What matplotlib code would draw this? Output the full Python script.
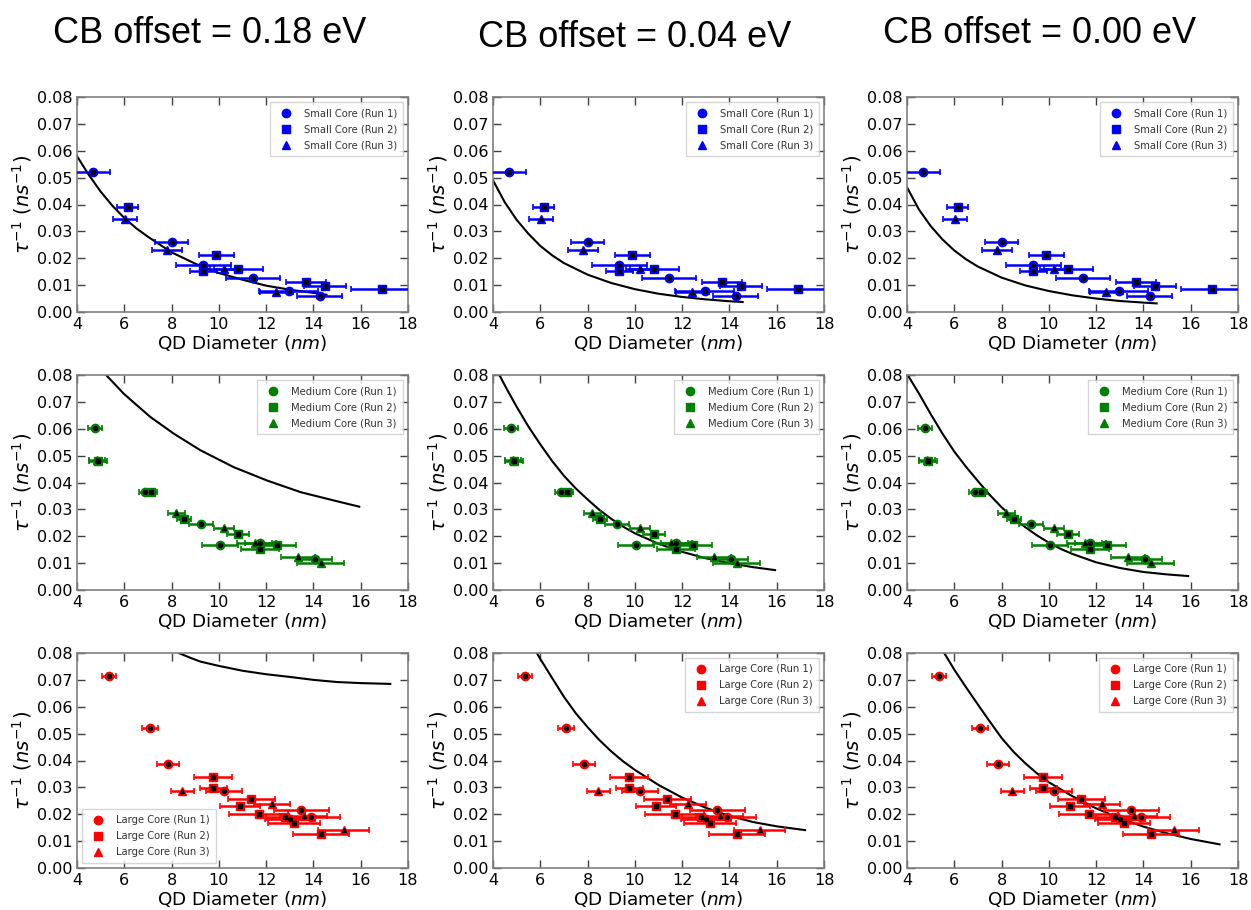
import matplotlib
matplotlib.use("Agg")
import matplotlib.pyplot as plt
from matplotlib.lines import Line2D

# ---------------- data ----------------
titles = ["CB offset = 0.18 eV", "CB offset = 0.04 eV", "CB offset = 0.00 eV"]
core_names = ["Small", "Medium", "Large"]
core_colors = ["blue", "green", "red"]

# Small core
small_r1_d = [4.69, 8.00, 9.35, 11.44, 12.95, 14.27]
small_r1_rate = [0.0521, 0.0259, 0.0175, 0.0128, 0.0079, 0.0059]
small_r1_err = [0.72, 0.70, 1.16, 1.15, 1.25, 0.95]
small_r2_d = [6.14, 9.35, 9.89, 10.83, 13.67, 14.48, 16.91]
small_r2_rate = [0.0390, 0.0152, 0.0212, 0.0159, 0.0110, 0.0096, 0.0085]
small_r2_err = [0.46, 0.57, 0.73, 1.03, 0.85, 0.89, 1.30]
small_r3_d = [6.03, 7.80, 10.23, 12.43]
small_r3_rate = [0.0347, 0.0232, 0.0160, 0.0075]
small_r3_err = [0.50, 0.63, 0.60, 0.70]

# Medium core
medium_r1_d = [4.76, 6.88, 9.24, 10.06, 11.75, 14.06]
medium_r1_rate = [0.0604, 0.0366, 0.0246, 0.0168, 0.0176, 0.0114]
medium_r1_err = [0.28, 0.25, 0.50, 0.76, 0.65, 0.74]
medium_r2_d = [4.90, 7.12, 8.53, 10.81, 11.75, 12.46]
medium_r2_rate = [0.0480, 0.0366, 0.0265, 0.0210, 0.0152, 0.0167]
medium_r2_err = [0.39, 0.25, 0.29, 0.48, 0.80, 0.80]
medium_r3_d = [4.85, 8.19, 10.21, 11.51, 13.35, 14.30]
medium_r3_rate = [0.0483, 0.0286, 0.0231, 0.0174, 0.0124, 0.0102]
medium_r3_err = [0.35, 0.36, 0.42, 0.75, 0.72, 1.00]

# Large core
large_r1_d = [5.36, 7.09, 7.84, 10.22, 13.02, 13.49, 13.91]
large_r1_rate = [0.0715, 0.0520, 0.0386, 0.0287, 0.0182, 0.0216, 0.0189]
large_r1_err = [0.30, 0.35, 0.47, 0.77, 1.05, 1.17, 1.20]
large_r2_d = [9.75, 9.77, 10.90, 11.37, 11.68, 12.80, 13.16, 14.32]
large_r2_rate = [0.0340, 0.0299, 0.0232, 0.0258, 0.0201, 0.0190, 0.0168, 0.0125]
large_r2_err = [0.80, 0.58, 0.85, 1.00, 1.25, 0.80, 1.10, 1.20]
large_r3_d = [8.46, 12.25, 13.59, 15.29]
large_r3_rate = [0.0286, 0.0240, 0.0194, 0.0140]
large_r3_err = [0.47, 0.76, 1.00, 1.08]

# Model curves (row = core size, column = CB offset)
small_018_x = [4.0, 4.5, 5.0, 5.5, 6.0, 6.5, 7.0, 8.0, 9.0, 10.0, 11.0, 12.0, 13.0, 14.0, 14.55]
small_018_y = [0.0580, 0.0510, 0.0448, 0.0395, 0.0350, 0.0312, 0.0280, 0.0222, 0.0180, 0.0145, 0.0120, 0.0098, 0.0083, 0.0071, 0.0064]
small_004_x = [4.0, 4.5, 5.0, 5.5, 6.0, 6.5, 7.0, 8.0, 9.0, 10.0, 11.0, 12.0, 13.0, 14.0, 14.56]
small_004_y = [0.0490, 0.0408, 0.0343, 0.0291, 0.0246, 0.0211, 0.0182, 0.0139, 0.0108, 0.0085, 0.0068, 0.0056, 0.0047, 0.0040, 0.0037]
small_000_x = [4.0, 4.5, 5.0, 5.5, 6.0, 6.5, 7.0, 8.0, 9.0, 10.0, 11.0, 12.0, 13.0, 14.0, 14.56]
small_000_y = [0.0464, 0.0382, 0.0320, 0.0270, 0.0229, 0.0196, 0.0169, 0.0128, 0.0099, 0.0078, 0.0062, 0.0050, 0.0041, 0.0035, 0.0032]

medium_018_x = [5.23, 5.5, 5.97, 6.5, 7.10, 8.09, 9.22, 10.63, 12.05, 13.46, 14.87, 15.94]
medium_018_y = [0.0800, 0.0775, 0.0731, 0.0690, 0.0644, 0.0582, 0.0520, 0.0457, 0.0407, 0.0364, 0.0333, 0.0310]
medium_004_x = [4.27, 4.6, 5.0, 5.5, 6.0, 6.5, 7.0, 7.5, 8.0, 8.5, 9.0, 9.5, 10.0, 11.0, 12.0, 13.0, 14.0, 15.0, 15.93]
medium_004_y = [0.0800, 0.0745, 0.0682, 0.0608, 0.0542, 0.0480, 0.0425, 0.0378, 0.0337, 0.0298, 0.0265, 0.0236, 0.0211, 0.0172, 0.0142, 0.0118, 0.0100, 0.0085, 0.0074]
medium_000_x = [4.0, 4.5, 5.0, 5.5, 6.0, 6.5, 7.0, 7.5, 8.0, 8.5, 9.0, 9.5, 10.0, 10.5, 11.0, 12.0, 13.0, 14.0, 15.0, 15.89]
medium_000_y = [0.0804, 0.0732, 0.0655, 0.0582, 0.0515, 0.0458, 0.0405, 0.0354, 0.0308, 0.0268, 0.0234, 0.0203, 0.0176, 0.0153, 0.0134, 0.0103, 0.0082, 0.0067, 0.0058, 0.0052]

large_018_x = [8.30, 8.8, 9.22, 10.0, 11.0, 12.0, 13.0, 14.0, 15.0, 16.0, 17.25]
large_018_y = [0.0800, 0.0782, 0.0768, 0.0752, 0.0734, 0.0721, 0.0711, 0.0700, 0.0692, 0.0688, 0.0685]
large_004_x = [5.85, 6.0, 6.5, 7.0, 7.5, 8.0, 8.5, 9.0, 9.5, 10.0, 11.0, 12.0, 13.0, 14.0, 15.0, 16.0, 17.2]
large_004_y = [0.0801, 0.0778, 0.0707, 0.0637, 0.0576, 0.0524, 0.0476, 0.0434, 0.0397, 0.0365, 0.0309, 0.0262, 0.0224, 0.0194, 0.0171, 0.0155, 0.0141]
large_000_x = [5.54, 6.0, 6.5, 7.0, 7.5, 8.0, 8.5, 9.0, 9.5, 10.0, 11.0, 12.0, 13.0, 14.0, 15.0, 16.0, 17.22]
large_000_y = [0.0805, 0.0738, 0.0672, 0.0608, 0.0545, 0.0484, 0.0433, 0.0390, 0.0352, 0.0319, 0.0267, 0.0222, 0.0185, 0.0154, 0.0129, 0.0108, 0.0088]

x_ticks = [4, 6, 8, 10, 12, 14, 16, 18]
y_ticks = [0.00, 0.01, 0.02, 0.03, 0.04, 0.05, 0.06, 0.07, 0.08]

# ---------------- assemble ----------------
runs = {
    "Small": [(small_r1_d, small_r1_rate, small_r1_err),
              (small_r2_d, small_r2_rate, small_r2_err),
              (small_r3_d, small_r3_rate, small_r3_err)],
    "Medium": [(medium_r1_d, medium_r1_rate, medium_r1_err),
               (medium_r2_d, medium_r2_rate, medium_r2_err),
               (medium_r3_d, medium_r3_rate, medium_r3_err)],
    "Large": [(large_r1_d, large_r1_rate, large_r1_err),
              (large_r2_d, large_r2_rate, large_r2_err),
              (large_r3_d, large_r3_rate, large_r3_err)],
}
curves = {
    "Small": [(small_018_x, small_018_y), (small_004_x, small_004_y), (small_000_x, small_000_y)],
    "Medium": [(medium_018_x, medium_018_y), (medium_004_x, medium_004_y), (medium_000_x, medium_000_y)],
    "Large": [(large_018_x, large_018_y), (large_004_x, large_004_y), (large_000_x, large_000_y)],
}
markers = ["o", "s", "^"]

fig = plt.figure(figsize=(12.51, 9.10), dpi=100)

col_left = [77, 493, 907]
col_w = 331
row_top = [97, 375, 653]
row_h = 215
W, H = 1251, 910

title_x = [210, 635, 1040]
title_base = [43, 47, 43]
for c in range(3):
    fig.text(title_x[c] / W, 1 - title_base[c] / H, titles[c], ha="center", va="baseline",
             fontsize=26, family="Liberation Sans")

for r, core in enumerate(core_names):
    color = core_colors[r]
    for c in range(3):
        ax = fig.add_axes([col_left[c] / W, 1 - (row_top[r] + row_h) / H, col_w / W, row_h / H])
        cx, cy = curves[core][c]
        ax.plot(cx, cy, color="black", lw=1.5, zorder=2, solid_joinstyle="round")
        handles = []
        for k, (d, rate, err) in enumerate(runs[core]):
            ax.errorbar(d, rate, xerr=err, fmt=markers[k], color=color, ms=6,
                        ecolor=color, elinewidth=1.8, capsize=2.5, capthick=1.2, zorder=3)
            ax.plot(d, rate, markers[k], color="black", ms=2.8, ls="none", zorder=4)
            handles.append(Line2D([], [], marker=markers[k], color=color, ls="none", ms=6,
                                  label=f"{core} Core (Run {k + 1})"))
        loc = "lower left" if (r == 2 and c == 0) else "upper right"
        leg = ax.legend(handles=handles, loc=loc, fontsize=7.2, handletextpad=0.8, borderpad=0.6,
                        labelspacing=0.6, edgecolor="0.8", fancybox=False)
        for t in leg.get_texts():
            t.set_color("0.2")
        ax.set_xlim(4, 18)
        ax.set_ylim(0, 0.08)
        ax.set_xticks(x_ticks)
        ax.set_yticks(y_ticks)
        ax.set_yticklabels([f"{v:.2f}" for v in y_ticks])
        ax.tick_params(direction="in", top=True, right=True, length=6, width=1,
                       labelsize=11.5, color="0.25")
        for s in ax.spines.values():
            s.set_color("0.5")
            s.set_linewidth(1.2)
        ax.set_xlabel(r"QD Diameter ($nm$)", fontsize=13.2, labelpad=1)
        ax.set_ylabel(r"$\tau^{-1}$ $(ns^{-1})$", fontsize=14, labelpad=2)

fig.savefig("out.png", dpi=100)
